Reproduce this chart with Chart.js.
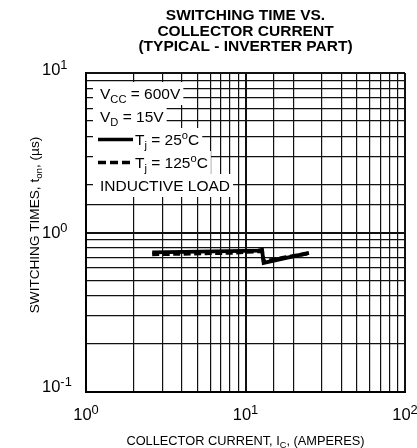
<!DOCTYPE html>
<html><head><meta charset="utf-8">
<script src="https://cdn.jsdelivr.net/npm/chart.js@4"></script>
<style>html,body{margin:0;padding:0;background:#fff}#wrap{width:417px;height:448px}</style>
</head><body><div id="wrap"><canvas id="c" width="417" height="448"></canvas></div>
<script>
// ---- data ----
const titleLines = ["SWITCHING TIME VS.", "COLLECTOR CURRENT", "(TYPICAL - INVERTER PART)"];
const xTickValues = [1, 10, 100];
const xTickExps = ["0", "1", "2"];
const yTickValues = [10, 1, 0.1];
const yTickExps = ["1", "0", "-1"];
const solidX = [2.6, 8, 12.0, 12.7, 13.0, 25];
const solidY = [0.75, 0.765, 0.77, 0.78, 0.645, 0.745];
const dashedX = [2.6, 8, 12.7, 13.0, 18, 25];
const dashedY = [0.73, 0.745, 0.765, 0.66, 0.70, 0.74];

const FONT = "'Liberation Sans', Arial, Helvetica, sans-serif";

function drawRich(ctx, segs, x, y, size, align, ratio) {
  ratio = ratio || 0.72;
  const small = size * ratio;
  let w = 0;
  const widths = segs.map(([t, k]) => {
    ctx.font = (k ? small : size) + "px " + FONT;
    const m = ctx.measureText(t).width; w += m; return m;
  });
  let cx = align === 'center' ? x - w / 2 : (align === 'right' ? x - w : x);
  ctx.textAlign = 'left'; ctx.textBaseline = 'alphabetic';
  segs.forEach(([t, k], i) => {
    ctx.font = (k ? small : size) + "px " + FONT;
    let dy = 0;
    if (k === 'sup') dy = -size * 0.36;
    if (k === 'sub') dy = size * 0.25;
    ctx.fillText(t, cx, y + dy);
    cx += widths[i];
  });
  return w;
}

const deco = {
  id: 'deco',
  beforeDatasetsDraw(chart) {
    const ctx = chart.ctx; const a = chart.chartArea;
    ctx.save();
    const rows = [
      {segs: [["V", ''], ["CC", 'sub'], [" = 600V", '']], line: null},
      {segs: [["V", ''], ["D", 'sub'], [" = 15V", '']], line: null},
      {segs: [["T", ''], ["j", 'sub'], [" = 25", ''], ["o", 'sup'], ["C", '']], line: 'solid'},
      {segs: [["T", ''], ["j", 'sub'], [" = 125", ''], ["o", 'sup'], ["C", '']], line: 'dash'},
      {segs: [["INDUCTIVE LOAD", '']], line: null}
    ];
    const x0 = a.left + 7, rowH = 23, top = a.top + 9, size = 15.5;
    rows.forEach((r, i) => {
      const textX = r.line ? x0 + 42 : x0 + 7;
      let w = 0; const small = size * 0.72;
      r.segs.forEach(([t, k]) => { ctx.font = (k ? small : size) + "px " + FONT; w += ctx.measureText(t).width; });
      ctx.fillStyle = '#fff';
      ctx.fillRect(x0, top + i * rowH, textX + w + 3 - x0, rowH);
      ctx.fillStyle = '#000';
      const base = top + i * rowH + 17;
      drawRich(ctx, r.segs, textX, base, size, 'left');
      if (r.line) {
        ctx.strokeStyle = '#000'; ctx.lineWidth = 3.5;
        ctx.setLineDash(r.line === 'dash' ? [8, 4] : []);
        ctx.beginPath(); ctx.moveTo(x0 + 5, base - 5.5); ctx.lineTo(textX - 2, base - 5.5); ctx.stroke();
        ctx.setLineDash([]);
      }
    });
    ctx.restore();
  },
  afterDraw(chart) {
    const ctx = chart.ctx; const a = chart.chartArea;
    const xs = chart.scales.x, ys = chart.scales.y;
    ctx.save();
    ctx.fillStyle = '#000';
    ctx.font = "bold 15.5px " + FONT; ctx.textAlign = 'center'; ctx.textBaseline = 'middle';
    titleLines.forEach((t, i) => ctx.fillText(t, (a.left + a.right) / 2, 16 + i * 15.5));
    xTickValues.forEach((v, i) => {
      drawRich(ctx, [["10", ''], [xTickExps[i], 'sup']], xs.getPixelForValue(v), a.bottom + 28, 16.5, 'center', 0.78);
    });
    const yOff = [2, 5, -0.5];
    yTickValues.forEach((v, i) => {
      drawRich(ctx, [["10", ''], [yTickExps[i], 'sup']], 42, ys.getPixelForValue(v) + yOff[i], 16.5, 'left', 0.78);
    });
    drawRich(ctx, [["COLLECTOR CURRENT, I", ''], ["C", 'sub'], [", (AMPERES)", '']], (a.left + a.right) / 2, 444.5, 12.8, 'center');
    ctx.translate(39, 225); ctx.rotate(-Math.PI / 2);
    drawRich(ctx, [["SWITCHING TIMES, t", ''], ["on", 'sub'], [", (\u00b5s)", '']], 0, 0, 13.6, 'center');
    ctx.restore();
  }
};

const gridOpts = {
  color: '#111',
  lineWidth: (c) => (c.tick && c.tick.major) ? 2 : 1.2,
  drawTicks: false
};

new Chart(document.getElementById('c'), {
  type: 'line',
  data: {
    datasets: [
      { data: solidX.map((x, i) => ({x, y: solidY[i]})), borderColor: '#000', borderWidth: 3.8, pointRadius: 0, tension: 0, fill: false },
      { data: dashedX.map((x, i) => ({x, y: dashedY[i]})), borderColor: '#000', borderWidth: 3.8, borderDash: [7, 3.5], pointRadius: 0, tension: 0, fill: false }
    ]
  },
  options: {
    responsive: false, animation: false,
    layout: { padding: { left: 86, right: 12, top: 73, bottom: 56 } },
    plugins: { legend: { display: false }, tooltip: { enabled: false }, title: { display: false } },
    scales: {
      x: { type: 'logarithmic', min: 1, max: 100, ticks: { display: false, major: {enabled: true} }, grid: gridOpts, border: { color: '#000', width: 2 } },
      y: { type: 'logarithmic', min: 0.1, max: 10, ticks: { display: false, major: {enabled: true} }, grid: gridOpts, border: { color: '#000', width: 2 } }
    }
  },
  plugins: [deco]
});
</script></body></html>
